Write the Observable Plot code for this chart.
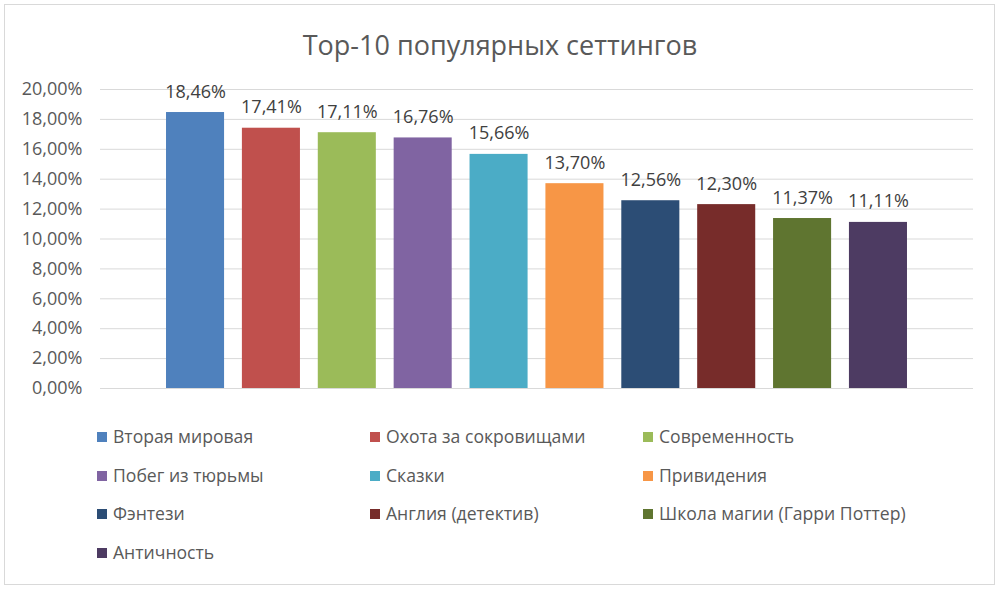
<!DOCTYPE html>
<html>
<head>
<meta charset="utf-8">
<script src="https://cdn.jsdelivr.net/npm/d3@7"></script>
<script src="https://cdn.jsdelivr.net/npm/@observablehq/plot@0.6"></script>
<style>
  html, body { margin: 0; padding: 0; background: #fff; }
  #wrap { position: relative; width: 1000px; height: 590px; font-family: "Open Sans", sans-serif; overflow: hidden; }
  #frame { position: absolute; left: 4px; top: 4px; width: 991px; height: 581px; box-sizing: border-box; border: 1px solid #d9d9d9; }
  #title { position: absolute; left: 0; top: 27px; width: 1000px; text-align: center; font-size: 27px; line-height: 36px; color: #595959; }
  #chart { position: absolute; left: 0; top: 70px; }
  .item { position: absolute; height: 20px; line-height: 20px; font-size: 17.6px; color: #595959; white-space: nowrap; }
  .sw { position: absolute; left: 0; top: 5px; width: 10px; height: 10px; }
  .lab { position: absolute; left: 16px; top: -1px; }
</style>
</head>
<body>
<div id="wrap">
  <div id="frame"></div>
  <div id="title">Top-10 популярных сеттингов</div>
  <div id="chart"></div>
  <div id="legend"></div>
</div>
<script>
const categories = ["Вторая мировая", "Охота за сокровищами", "Современность", "Побег из тюрьмы", "Сказки", "Привидения", "Фэнтези", "Англия (детектив)", "Школа магии (Гарри Поттер)", "Античность"];
const values = [18.46, 17.41, 17.11, 16.76, 15.66, 13.70, 12.56, 12.30, 11.37, 11.11];
const colors = ["#4F81BD", "#C0504D", "#9BBB59", "#8064A2", "#4BACC6", "#F79646", "#2C4D75", "#772C2A", "#5F7530", "#4D3B62"];
const yTicks = [0, 2, 4, 6, 8, 10, 12, 14, 16, 18, 20];

const fmt = v => v.toFixed(2).replace(".", ",") + "%";
const data = categories.map((c, i) => ({category: c, value: values[i], color: colors[i]}));

const chart = Plot.plot({
  width: 1000,
  height: 330,
  marginTop: 19,
  marginBottom: 12,
  marginLeft: 100,
  marginRight: 27,
  style: {fontFamily: "'Open Sans', sans-serif", fontSize: "18px", background: "transparent"},
  x: {domain: categories, paddingInner: 0.235, paddingOuter: 0.87, round: false, axis: null},
  y: {domain: [0, 20], axis: null},
  marks: [
    Plot.gridY(yTicks, {stroke: "#d9d9d9", strokeOpacity: 1, strokeWidth: 1}),
    Plot.axisY(yTicks, {tickSize: 0, tickPadding: 18, tickFormat: fmt, fill: "#595959", fontSize: 18, label: null}),
    Plot.barY(data, {x: "category", y: "value", fill: "color"}),
    Plot.text(data, {x: "category", y: "value", text: d => fmt(d.value), lineAnchor: "bottom", dy: -15, fill: "#404040", fontSize: 18})
  ]
});
document.getElementById("chart").appendChild(chart);

const legend = document.getElementById("legend");
const colX = [97, 370, 643];
const rowY = [437, 476, 514, 553];
categories.forEach((c, i) => {
  const item = document.createElement("div");
  item.className = "item";
  item.style.left = colX[i % 3] + "px";
  item.style.top = (rowY[Math.floor(i / 3)] - 10) + "px";
  const sw = document.createElement("div");
  sw.className = "sw";
  sw.style.background = colors[i];
  const lab = document.createElement("span");
  lab.className = "lab";
  lab.textContent = c;
  item.appendChild(sw);
  item.appendChild(lab);
  legend.appendChild(item);
});
</script>
</body>
</html>
